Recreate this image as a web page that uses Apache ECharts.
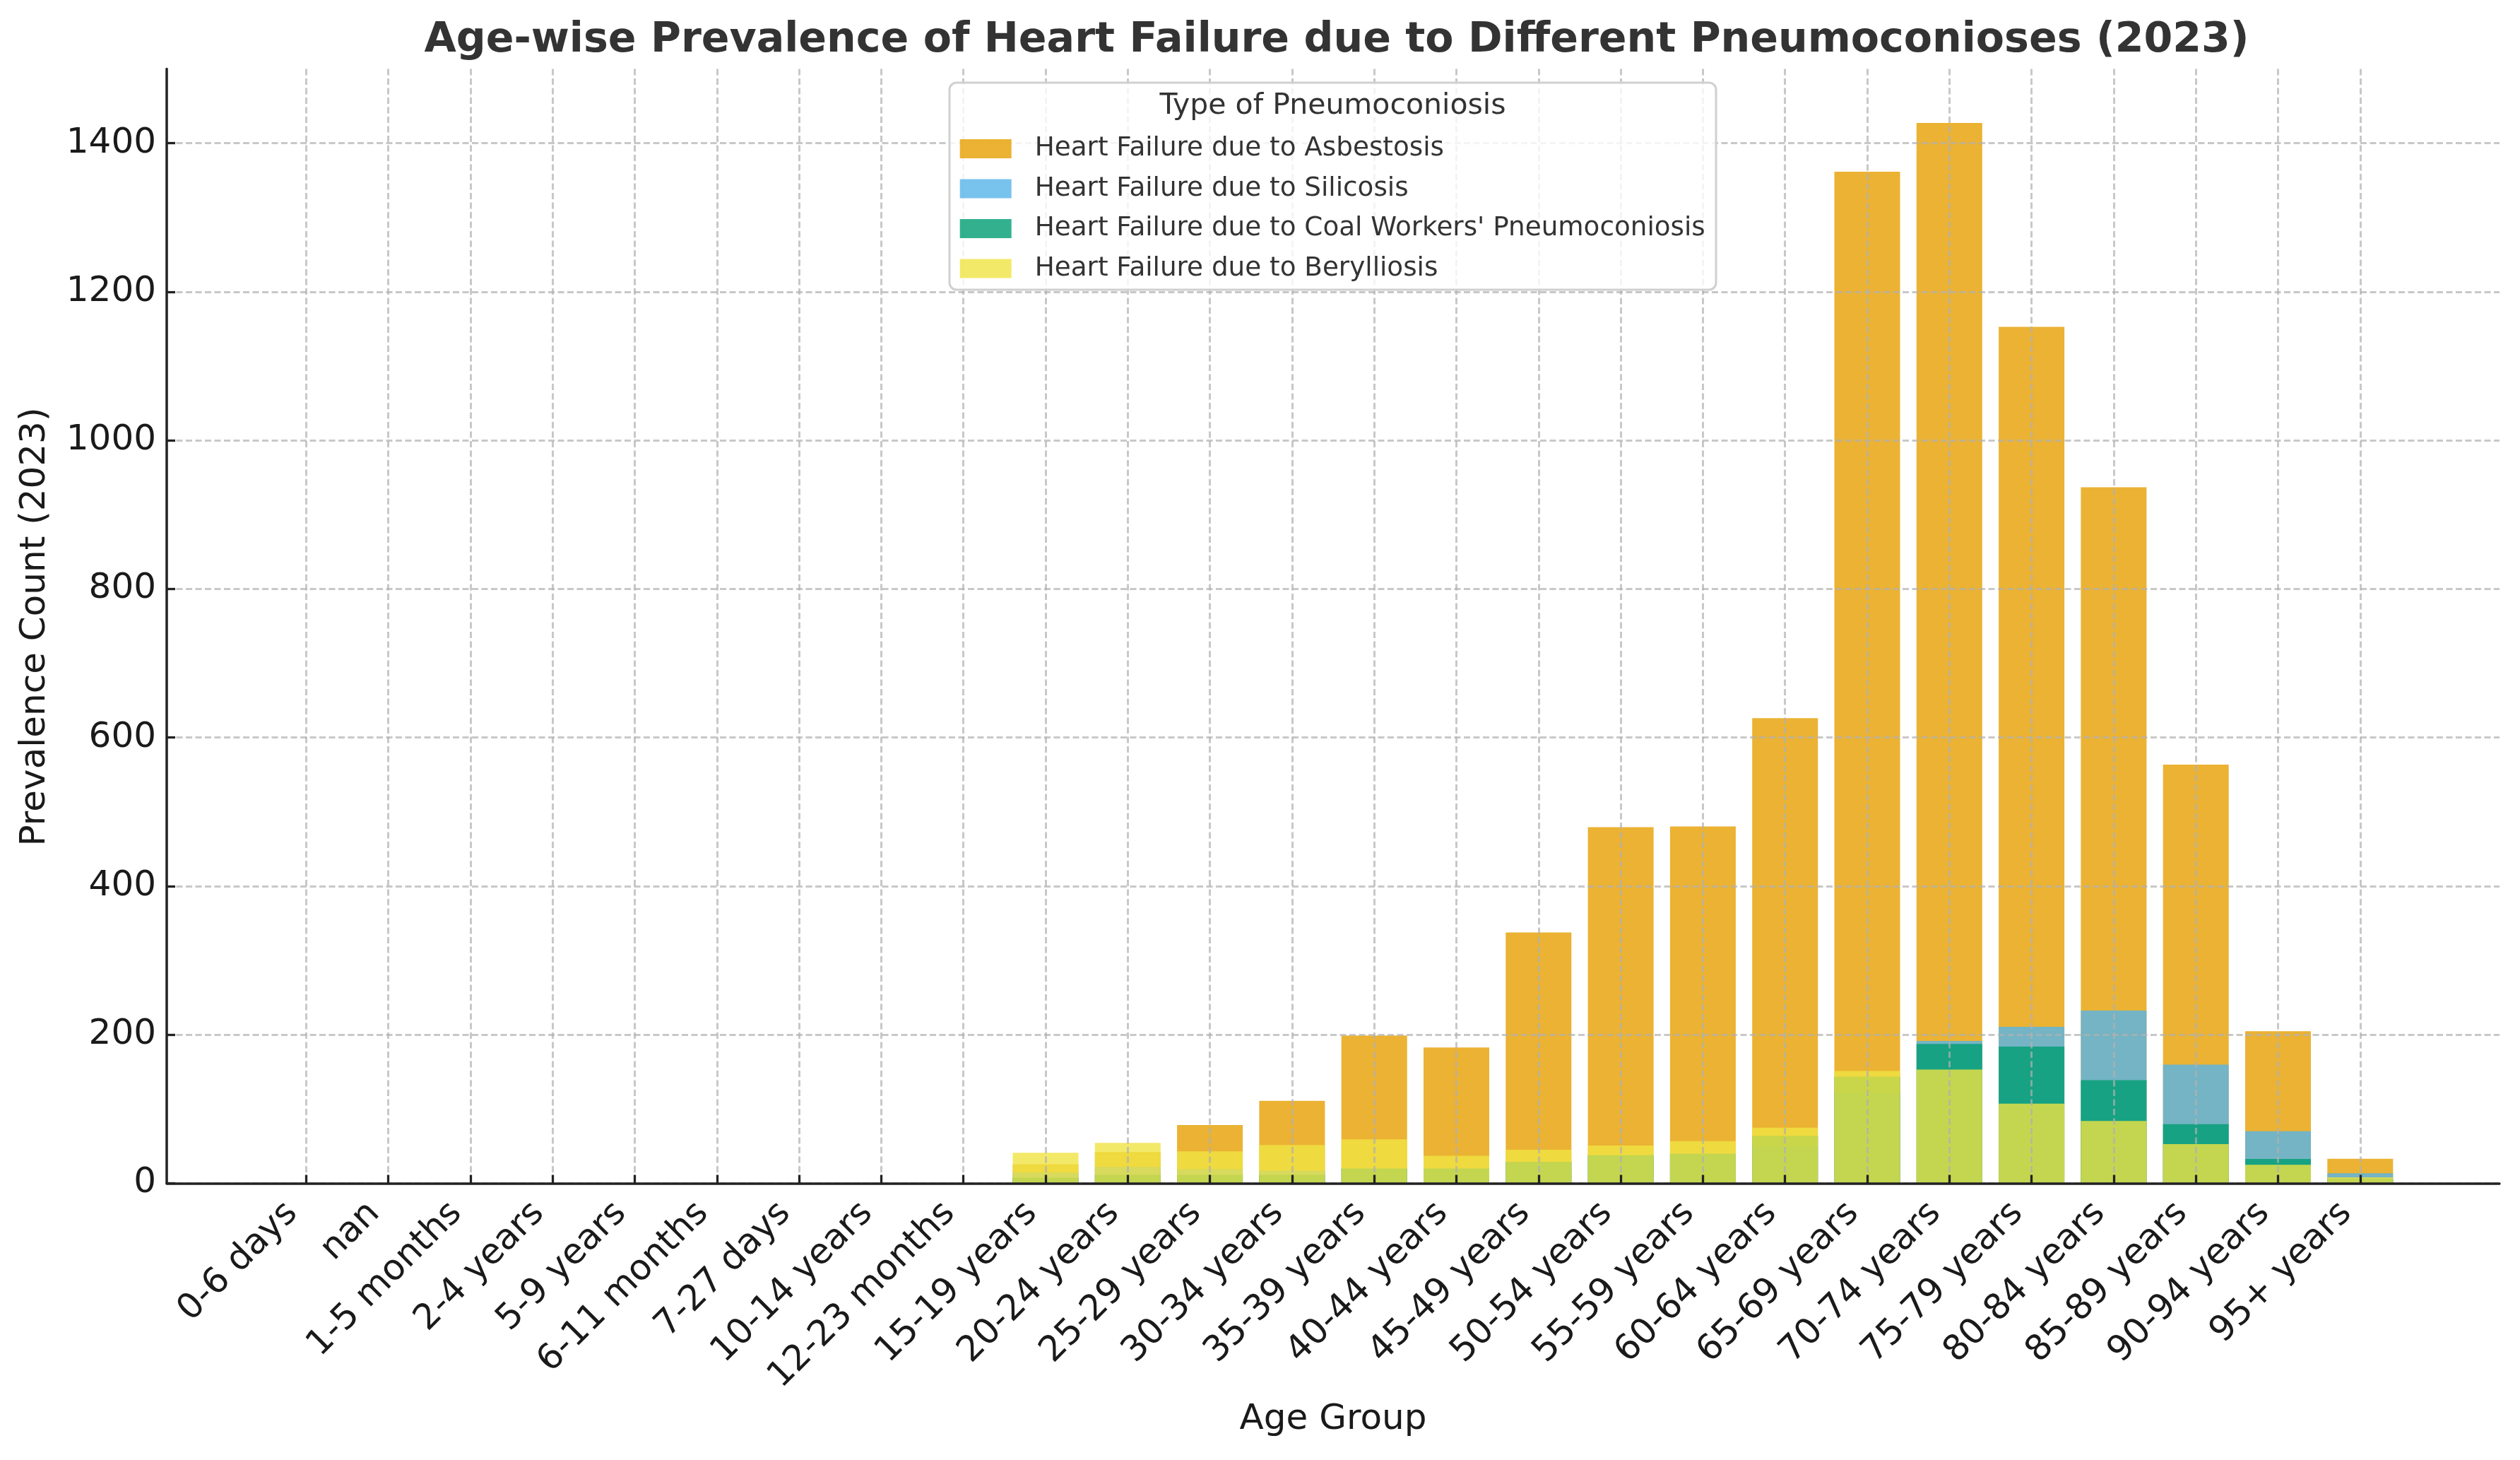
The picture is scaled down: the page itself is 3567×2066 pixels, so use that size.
<!DOCTYPE html>
<html>
<head>
<meta charset="utf-8">
<script src="https://cdn.jsdelivr.net/npm/echarts@6/dist/echarts.min.js"></script>
<style>
html,body{margin:0;padding:0;background:#fff;}
#chart{width:3567px;height:2066px;}
</style>
</head>
<body>
<div id="chart"></div>
<script>
const ageGroups = ['0-6 days','nan','1-5 months','2-4 years','5-9 years','6-11 months','7-27 days','10-14 years','12-23 months','15-19 years','20-24 years','25-29 years','30-34 years','35-39 years','40-44 years','45-49 years','50-54 years','55-59 years','60-64 years','65-69 years','70-74 years','75-79 years','80-84 years','85-89 years','90-94 years','95+ years'];
const asbestosis = [0,0,0,0,0,0,0,0,0, 25.8,42.1,78.5,111,199,182.8,337.6,479.4,480.3,626,1361.6,1427.3,1152.9,936.8,563.6,204.7,33.0];
const silicosis  = [0,0,0,0,0,0,0,0,0, 14.4,22.0,19.1,17.2,19.8,19.8,28.5,37.5,39.5,50,121.6,191.7,210.7,232.5,159.7,70.1,13.6];
const coalWorkers= [0,0,0,0,0,0,0,0,0, 7.7,11.5,11.5,11.5,20.0,20.0,29.0,38.0,40.0,64.0,143.7,187.7,184.0,138.8,79.6,32.8,6.5];
const berylliosis= [0,0,0,0,0,0,0,0,0, 41.1,54.5,43.1,51.7,59.3,37.2,45.2,50.8,56.8,74.8,151.3,153.2,107.2,84.0,52.7,25.0,8.1];
const seriesNames = ['Heart Failure due to Asbestosis','Heart Failure due to Silicosis',"Heart Failure due to Coal Workers' Pneumoconiosis",'Heart Failure due to Berylliosis'];
const seriesColors = ['rgba(230,159,0,0.8)','rgba(86,180,233,0.8)','rgba(0,158,115,0.8)','rgba(240,228,66,0.8)'];
const yTicks = [0,200,400,600,800,1000,1200,1400];

const FONT = 'DejaVu Sans';
const gridLine = {show:true, lineStyle:{color:'rgba(176,176,176,0.7)', width:3, type:[9,4.5]}};
const values = [asbestosis, silicosis, coalWorkers, berylliosis];

const chart = echarts.init(document.getElementById('chart'), null, {renderer:'canvas'});
const option = {
  animation:false,
  backgroundColor:'#ffffff',
  title:{
    text:'Age-wise Prevalence of Heart Failure due to Different Pneumoconioses (2023)',
    left:1887, top:24, textAlign:'center',
    textStyle:{fontFamily:FONT, fontSize:58.6, fontWeight:'bold', color:'#333333', lineHeight:58}
  },
  grid:[
    {left:433.3, right:3567-3340.8, top:97.5, bottom:391.5},
    {left:236, right:29, top:97.5, bottom:391.5},
    {left:236, right:29, top:202.6, bottom:391.5}
  ],
  xAxis:[
    {gridIndex:0, type:'value', min:0, max:25, interval:1, z:3,
     axisLine:{show:false},
     axisTick:{show:true, inside:true, length:12, lineStyle:{color:'#222', width:3.3}},
     axisLabel:{show:true, rotate:45, margin:15, padding:[0,28,0,0], fontFamily:FONT, fontSize:50, color:'#1a1a1a',
       formatter:function(v){ return ageGroups[v] !== undefined ? ageGroups[v] : ''; }},
     splitLine:gridLine},
    {gridIndex:1, type:'value', min:0, max:1, z:4,
     axisLine:{show:true, lineStyle:{color:'#222', width:3.5}},
     axisTick:{show:false}, axisLabel:{show:false}, splitLine:{show:false}},
    {gridIndex:2, type:'value', min:0, max:1, show:false}
  ],
  yAxis:[
    {gridIndex:0, type:'value', min:0, max:1500, show:false},
    {gridIndex:1, type:'value', min:0, max:1, z:4,
     axisLine:{show:true, lineStyle:{color:'#222', width:3.5}},
     axisTick:{show:false}, axisLabel:{show:false}, splitLine:{show:false}},
    {gridIndex:2, type:'value', min:yTicks[0], max:yTicks[yTicks.length-1], interval:200, z:3,
     axisLine:{show:false},
     axisTick:{show:true, inside:true, length:12, lineStyle:{color:'#222', width:3.3}},
     axisLabel:{margin:15, fontFamily:FONT, fontSize:50, color:'#1a1a1a',
       formatter:function(v){ return String(v); }},
     splitLine:gridLine}
  ],
  legend:{
    orient:'vertical', left:1358.7, top:192, padding:0, z:20,
    itemWidth:73, itemHeight:27, itemGap:19.5, icon:'rect',
    selectedMode:false,
    data:seriesNames,
    textStyle:{fontFamily:FONT, fontSize:37.3, color:'#333333', padding:[0,0,0,28]}
  },
  graphic:[
    {type:'rect', z:10, shape:{x:1344, y:117, width:1085, height:293, r:10},
     style:{fill:'rgba(255,255,255,0.8)', stroke:'#d0d0d0', lineWidth:3}},
    {type:'text', z:21, x:1886.5, y:150,
     style:{text:'Type of Pneumoconiosis', fontFamily:FONT, fontSize:41, fill:'#333333', textAlign:'center', textVerticalAlign:'middle'}},
    {type:'text', z:21, x:1887, y:2009,
     style:{text:'Age Group', fontFamily:FONT, fontSize:50, fill:'#1a1a1a', textAlign:'center', textVerticalAlign:'middle'}},
    {type:'text', z:21, x:50, y:887, rotation:Math.PI/2,
     style:{text:'Prevalence Count (2023)', fontFamily:FONT, fontSize:50, fill:'#1a1a1a', textAlign:'center', textVerticalAlign:'middle'}}
  ],
  series: seriesNames.map(function(name, k){
    return {
      name:name, type:'bar', xAxisIndex:0, yAxisIndex:0,
      barWidth:93, barGap:'-100%', clip:false,
      itemStyle:{color:seriesColors[k]},
      emphasis:{disabled:true},
      data: ageGroups.map(function(_, i){ return [i, values[k][i]]; })
    };
  })
};
chart.setOption(option);
</script>
</body>
</html>
